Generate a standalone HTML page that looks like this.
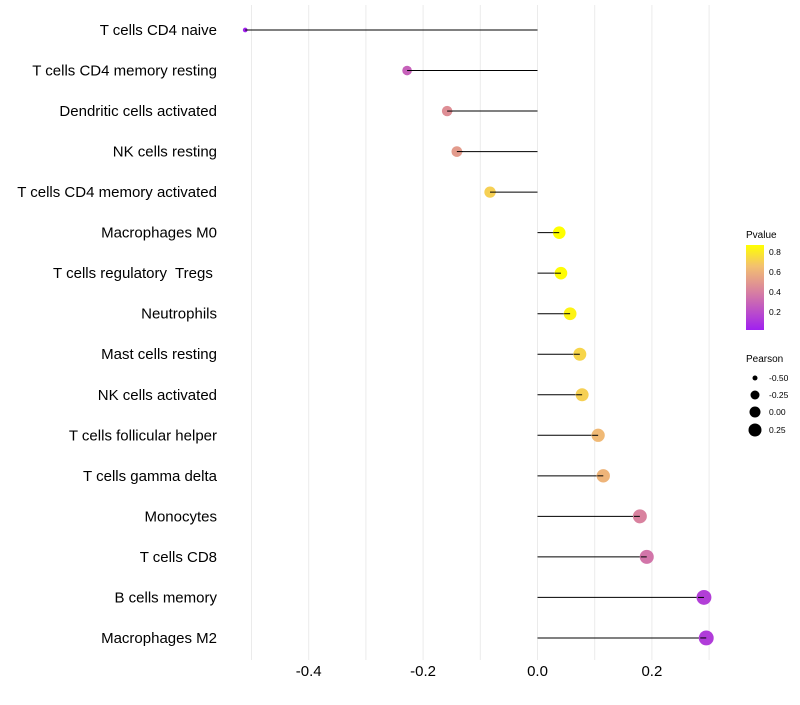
<!DOCTYPE html>
<html><head><meta charset="utf-8"><style>
body{margin:0;background:#fff;font-family:"Liberation Sans",sans-serif;}
</style></head><body>
<svg id="chart" width="800" height="700" xmlns="http://www.w3.org/2000/svg" font-family="Liberation Sans, sans-serif">
<defs><linearGradient id="pg" x1="0" y1="1" x2="0" y2="0">
<stop offset="0" stop-color="#A020F0"/><stop offset="0.45" stop-color="#D880A0"/><stop offset="0.75" stop-color="#F3C070"/><stop offset="1" stop-color="#FFFF00"/></linearGradient></defs>
<g id="grid"></g><g id="marks"></g><g id="ylabels"></g><g id="xlabels"></g>
<g>
<text x="746" y="238" font-size="10" fill="#000">Pvalue</text>
<rect x="746" y="245" width="18" height="85" fill="url(#pg)"/>
<text x="769" y="255" font-size="8.5">0.8</text><text x="769" y="275" font-size="8.5">0.6</text>
<text x="769" y="295" font-size="8.5">0.4</text><text x="769" y="315" font-size="8.5">0.2</text>
</g>
<g>
<text x="746" y="362" font-size="10">Pearson</text>
<circle cx="755" cy="378" r="2.5"/><text x="769" y="381" font-size="8.5">-0.50</text>
<circle cx="755" cy="395" r="4.5"/><text x="769" y="398" font-size="8.5">-0.25</text>
<circle cx="755" cy="412" r="5.5"/><text x="769" y="415" font-size="8.5">0.00</text>
<circle cx="755" cy="430" r="6.5"/><text x="769" y="433" font-size="8.5">0.25</text>
</g>
</svg>
<script>
const categories=["T cells CD4 naive","T cells CD4 memory resting","Dendritic cells activated","NK cells resting","T cells CD4 memory activated","Macrophages M0","T cells regulatory  Tregs ","Neutrophils","Mast cells resting","NK cells activated","T cells follicular helper","T cells gamma delta","Monocytes","T cells CD8","B cells memory","Macrophages M2"];
const pearson=[-0.511,-0.228,-0.158,-0.141,-0.083,0.038,0.041,0.057,0.074,0.078,0.106,0.115,0.179,0.191,0.291,0.295];
const pvalue=[0.02,0.27,0.45,0.5,0.7,0.86,0.85,0.82,0.72,0.7,0.62,0.6,0.4,0.35,0.13,0.12];
const xTicks=[-0.4,-0.2,0.0,0.2];
const xGrid=[-0.5,-0.4,-0.3,-0.2,-0.1,0,0.1,0.2,0.3];
const NS="http://www.w3.org/2000/svg";
const xs=v=>537.5+v*572;
const ys=i=>30+i*40.53;
function col(p){const t=Math.max(0,Math.min(1,(p-0.01)/0.85));
 const st=[[0,[160,32,240]],[0.45,[216,128,160]],[0.75,[243,192,112]],[1,[255,255,0]]];
 for(let k=1;k<st.length;k++){if(t<=st[k][0]){const a=st[k-1],b=st[k],f=(t-a[0])/(b[0]-a[0]);
 return "rgb("+a[1].map((c,j)=>Math.round(c+(b[1][j]-c)*f)).join(",")+")";}}return "rgb(255,255,0)";}
function rs(v){const mn=-0.52,mx=0.3,f=(v-mn)/(mx-mn);return Math.sqrt(5+f*(56-5));}
function mk(t,a,p){const e=document.createElementNS(NS,t);for(const k in a)e.setAttribute(k,a[k]);document.getElementById(p).appendChild(e);return e;}
xGrid.forEach(v=>{const l=mk("line",{x1:xs(v),x2:xs(v),y1:5,y2:660,stroke:"#ebebeb","stroke-width":1},"grid");

});
xTicks.forEach(v=>{const t=mk("text",{x:xs(v),y:676,"font-size":15,"text-anchor":"middle",fill:"#000"},"xlabels");
t.textContent=v.toFixed(1);

});
categories.forEach((c,i)=>{
 const t=mk("text",{x:217,y:ys(i)+5,"font-size":15,"text-anchor":"end",fill:"#000"},"ylabels");
 t.textContent=c;t.setAttribute("xml:space","preserve");t.style.whiteSpace="pre";
 
 
 const l=mk("line",{x1:xs(0),x2:xs(pearson[i]),y1:ys(i),y2:ys(i),stroke:"#000","stroke-width":1},"marks");
 
 
 const d=mk("circle",{cx:xs(pearson[i]),cy:ys(i),r:rs(pearson[i]),fill:col(pvalue[i])},"marks");
 
 
 const l2=mk("line",{x1:xs(pearson[i]),x2:xs(pearson[i])+(pearson[i]<0?6:-6),y1:ys(i),y2:ys(i),stroke:"#000","stroke-width":1},"marks");
 
 
});
</script>
</body></html>
